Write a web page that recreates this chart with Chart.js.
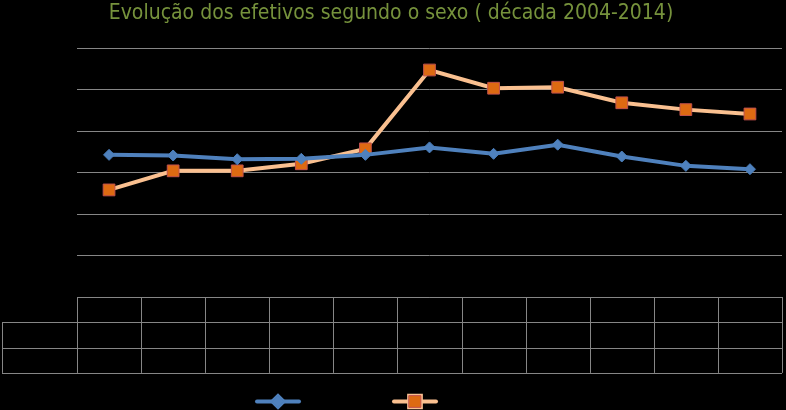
<!DOCTYPE html>
<html>
<head>
<meta charset="utf-8">
<script src="https://cdn.jsdelivr.net/npm/chart.js@4"></script>
<style>
html, body { margin: 0; padding: 0; background: #000; }
#wrap { width: 786px; height: 410px; }
</style>
</head>
<body>
<div id="wrap"><canvas id="chart"></canvas></div>
<script>
// data
var anos = ['2004', '2005', '2006', '2007', '2008', '2009', '2010', '2011', '2012', '2013', '2014']
var masculino = [685, 682, 664, 666, 685, 721, 690, 734, 677, 632, 616]
var feminino = [516, 608, 608, 642, 714, 1094, 1006, 1011, 936, 903, 882]
var series = ['Masculino', 'Feminino']

var gridCor = '#868686'

// data table under the plot + legend, drawn from the x scale
var tabelaPlugin = {
	id: 'tabela',
	afterDraw: function (chart) {
		var ctx = chart.ctx
		var xs = chart.scales.x
		var area = chart.chartArea
		var n = anos.length
		var w = (area.right - area.left) / n
		var rh = 25.3
		var top = area.bottom
		var leftCol = 2
		ctx.save()
		ctx.strokeStyle = gridCor
		ctx.lineWidth = 1
		ctx.beginPath()
		// horizontal lines
		ctx.moveTo(area.left, top + 0.5); ctx.lineTo(area.right, top + 0.5)
		for (var r = 1; r <= 3; r++) {
			var y = Math.round(top + r * rh) + 0.5
			ctx.moveTo(leftCol, y); ctx.lineTo(area.right, y)
		}
		// vertical lines
		for (var i = 0; i <= n; i++) {
			var x = Math.round(area.left + i * w) + 0.5
			ctx.moveTo(x, top); ctx.lineTo(x, top + 3 * rh)
		}
		ctx.moveTo(leftCol + 0.5, top + rh); ctx.lineTo(leftCol + 0.5, top + 3 * rh)
		ctx.stroke()

		// cell texts (black, as in the original)
		ctx.fillStyle = '#000'
		ctx.font = '11px "DejaVu Sans Condensed", sans-serif'
		ctx.textAlign = 'center'
		ctx.textBaseline = 'middle'
		var dados = [masculino, feminino]
		for (i = 0; i < n; i++) {
			var cx = xs.getPixelForValue(i)
			ctx.fillText(anos[i], cx, top + rh / 2)
			ctx.fillText(dados[0][i], cx, top + rh * 1.5)
			ctx.fillText(dados[1][i], cx, top + rh * 2.5)
		}
		ctx.textAlign = 'left'
		ctx.fillText(series[0], leftCol + 4, top + rh * 1.5)
		ctx.fillText(series[1], leftCol + 4, top + rh * 2.5)

		// legend
		var legX = [278, 415]
		var legY = 401.5
		chart.data.datasets.forEach(function (ds, k) {
			ctx.strokeStyle = ds.borderColor
			ctx.lineWidth = 4
			ctx.lineCap = 'round'
			ctx.beginPath()
			ctx.moveTo(legX[k] - 21, legY); ctx.lineTo(legX[k] + 21, legY)
			ctx.stroke()
			Chart.helpers.drawPoint(ctx, {
				pointStyle: ds.pointStyle,
				radius: ds.pointRadius,
				borderWidth: ds.pointBorderWidth
			}, legX[k], legY)
			ctx.fillStyle = ds.pointBackgroundColor
			ctx.strokeStyle = ds.pointBorderColor
			ctx.lineWidth = ds.pointBorderWidth
			ctx.fill()
			ctx.stroke()
			ctx.fillStyle = '#000'
			ctx.fillText(ds.label, legX[k] + 26, legY)
		})
		ctx.restore()
	}
}

new Chart(document.getElementById('chart'), {
	type: 'line',
	data: {
		labels: anos,
		datasets: [{
			label: series[0],
			data: masculino,
			borderColor: '#4F81BD',
			borderWidth: 4,
			pointStyle: 'rectRot',
			pointRadius: 5.5,
			pointHoverRadius: 5.5,
			pointBackgroundColor: '#4F81BD',
			pointBorderColor: '#4A7EBB',
			pointBorderWidth: 1,
			tension: 0
		}, {
			label: series[1],
			data: feminino,
			borderColor: '#FAC090',
			borderWidth: 4,
			pointStyle: 'rect',
			pointRadius: 8.3,
			pointHoverRadius: 8.3,
			pointBackgroundColor: '#DD6A12',
			pointBorderColor: '#C0504D',
			pointBorderWidth: 1,
			tension: 0
		}]
	},
	options: {
		responsive: true,
		maintainAspectRatio: false,
		animation: false,
		layout: { autoPadding: false, padding: { left: 0, right: 4, top: 0, bottom: 113 } },
		plugins: {
			legend: { display: false },
			tooltip: { enabled: false },
			title: {
				display: true,
				text: 'Evolução dos efetivos segundo o sexo ( década 2004-2014)',
				color: '#76923C',
				font: { family: '"DejaVu Sans Condensed", sans-serif', size: 21, weight: 'normal' },
				padding: { top: 1, bottom: 21.8 }
			}
		},
		scales: {
			x: {
				offset: true,
				display: false
			},
			y: {
				min: 0,
				max: 1200,
				ticks: { stepSize: 200, display: false },
				grid: { color: gridCor, drawTicks: false },
				border: { display: false },
				afterFit: function (s) { s.width = 77 }
			}
		}
	},
	plugins: [tabelaPlugin]
})
</script>
</body>
</html>
